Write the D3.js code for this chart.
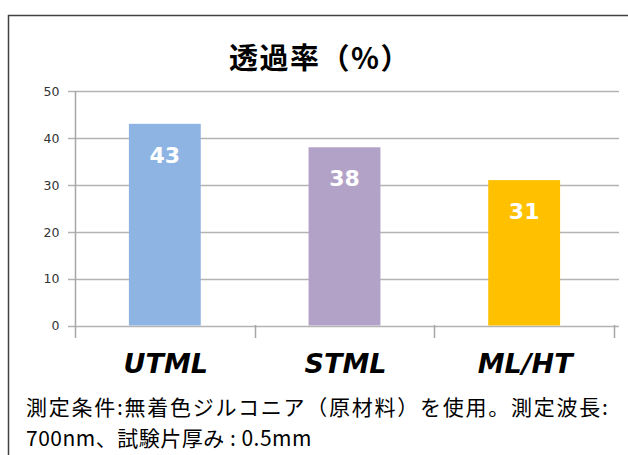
<!DOCTYPE html>
<html><head><meta charset="utf-8">
<script src="https://cdn.jsdelivr.net/npm/d3@7"></script>
<style>body{margin:0;background:#fff}svg{display:block}</style>
</head><body>
<svg id="c" width="628" height="455"></svg>
<script>
const categories = ["UTML", "STML", "ML/HT"];
const values = [43, 38, 31];
const colors = ["#8EB4E3", "#B3A2C7", "#FFC000"];
const yTicks = [0, 10, 20, 30, 40, 50];
const title = "透過率（%）";
const noteLines = ["測定条件:無着色ジルコニア（原材料）を使用。測定波長:", "700nm、試験片厚み : 0.5mm"];
const noteSpacing = [1.75, 0.5];

const svg = d3.select("#c");
// frame
svg.append("rect").attr("x", 8.5).attr("y", 15.5).attr("width", 640).attr("height", 460)
  .attr("fill", "#fff").attr("stroke", "#404040").attr("stroke-width", 1.5);

const x = d3.scaleBand().domain(categories).range([75, 614]).paddingInner(0.6).paddingOuter(0.3);
const y = d3.scaleLinear().domain([0, 50]).range([325.5, 91]);

// title
svg.append("text").attr("x", 320).attr("y", 69).attr("text-anchor", "middle")
  .attr("font-family", "'Noto Sans CJK JP', sans-serif").attr("font-weight", "bold")
  .attr("font-size", 29).attr("letter-spacing", 1.5).attr("fill", "#000").text(title);

// gridlines
svg.append("g").selectAll("line").data(yTicks).join("line")
  .attr("x1", 68).attr("x2", 619).attr("y1", d => Math.round(y(d)) + 0.5).attr("y2", d => Math.round(y(d)) + 0.5)
  .attr("stroke", "#b3b3b3").attr("stroke-width", 1.5);

// y axis
const yAxis = d3.axisLeft(y).tickValues(yTicks).tickSize(0).tickPadding(16);
const gy = svg.append("g").attr("transform", "translate(75.5,0)").call(yAxis);
gy.select(".domain").remove();
gy.selectAll("text").attr("font-family", "'DejaVu Sans', sans-serif").attr("font-size", 12.5)
  .attr("fill", "#333").attr("dy", "0.35em");
svg.append("line").attr("x1", 75.5).attr("x2", 75.5).attr("y1", 91).attr("y2", 338)
  .attr("stroke", "#a6a6a6").attr("stroke-width", 1.5);

// bars
svg.append("g").selectAll("rect").data(categories).join("rect")
  .attr("x", d => x(d)).attr("width", x.bandwidth())
  .attr("y", (d, i) => y(values[i])).attr("height", (d, i) => y(0) - y(values[i]))
  .attr("fill", (d, i) => colors[i]);

// x ticks
const xTickPos = d3.range(categories.length + 1).map(i => 75 + i * (614 - 75) / categories.length);
svg.append("g").selectAll("line").data(xTickPos.slice(1)).join("line")
  .attr("x1", d => Math.round(d) + 0.5).attr("x2", d => Math.round(d) + 0.5).attr("y1", 325).attr("y2", 338)
  .attr("stroke", "#a6a6a6").attr("stroke-width", 1.5);

// value labels
svg.append("g").selectAll("text").data(categories).join("text")
  .attr("x", d => x(d) + x.bandwidth() / 2).attr("y", (d, i) => y(values[i]) + 39)
  .attr("text-anchor", "middle").attr("font-family", "'DejaVu Sans', sans-serif")
  .attr("font-weight", "bold").attr("font-size", 22).attr("fill", "#fff")
  .text((d, i) => values[i]);

// category labels
svg.append("g").selectAll("text").data(categories).join("text")
  .attr("x", d => x(d) + x.bandwidth() / 2 + 1).attr("y", 373)
  .attr("text-anchor", "middle").attr("font-family", "'DejaVu Sans', sans-serif")
  .attr("font-weight", "bold").attr("font-style", "italic").attr("font-size", 27).attr("fill", "#000")
  .text(d => d);

// note
svg.append("g").selectAll("text").data(noteLines).join("text")
  .attr("x", 26).attr("y", (d, i) => 415 + i * 31)
  .attr("font-family", "'Noto Sans CJK JP', sans-serif").attr("font-size", 21)
  .attr("letter-spacing", (d, i) => noteSpacing[i]).attr("fill", "#000")
  .text(d => d);
</script>
</body></html>
